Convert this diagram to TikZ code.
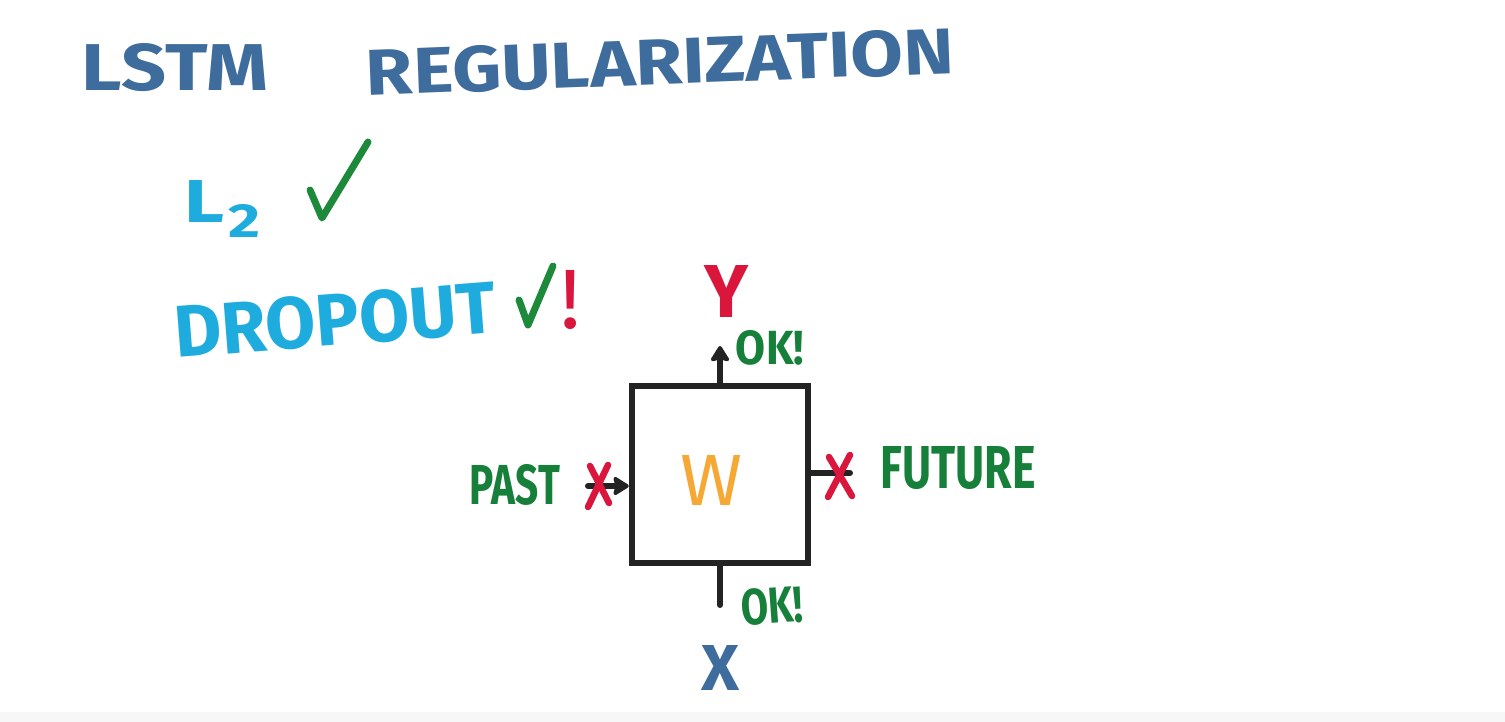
\documentclass[tikz,border=0pt]{standalone}
\usepackage{fontspec}
\setmainfont{Fira Sans}
\usepackage{graphicx}
\usetikzlibrary{arrows.meta}
\definecolor{titleblue}{RGB}{62,108,156}
\definecolor{skycyan}{RGB}{30,172,222}
\definecolor{checkgreen}{RGB}{28,138,58}
\definecolor{labelgreen}{RGB}{22,128,58}
\definecolor{markred}{RGB}{218,22,60}
\definecolor{worange}{RGB}{246,168,52}
\definecolor{boxblack}{RGB}{35,35,35}
\newcommand{\fitbox}[3]{\resizebox{#1pt}{#2pt}{#3}}
\tikzset{
  lbl/.style={inner sep=0pt, anchor=center},
  ttl/.style={lbl, text=titleblue, font=\bfseries},
  cyn/.style={lbl, text=skycyan, font=\bfseries},
  grn/.style={lbl, text=labelgreen, font=\bfseries},
  redtxt/.style={lbl, text=markred},
  tick/.style={draw=checkgreen, line width=7pt, line cap=round, line join=round},
  cross/.style={draw=markred, line width=6.5pt, line cap=round},
  wire/.style={draw=boxblack, line width=6pt, line cap=round},
  arr/.style={wire, -{Stealth[round, length=18pt, width=22pt, inset=3pt]}},
  cell/.style={draw=boxblack, line width=6.5pt, minimum width=176pt, minimum height=177pt, inner sep=0pt}
}
\begin{document}
\begin{tikzpicture}[x=1pt,y=-1pt]
\useasboundingbox (0,0) rectangle (1505,722);
\fill[white] (0,0) rectangle (1505,722);
\fill[black!3] (0,712) rectangle (1505,722);

% title
\node[ttl] (lstm) at (175,68) {\fitbox{186}{47}{LSTM}};
\node[ttl, rotate=2.2] (reg) at (660,62) {\fitbox{588}{46}{REGULARIZATION}};

% L2
\node[cyn] (ltwoL) at (205,201) {\fitbox{40}{42}{L}};
\node[cyn] (ltwosub) at (245,221) {\fitbox{32}{33}{2}};
\draw[tick] (310,190) -- (322,218) -- (368,142);

% dropout
\node[cyn, rotate=4.5] (drop) at (335,320) {\fitbox{322}{52}{DROPOUT}};
\draw[tick] (519,300) -- (528,325) -- (553,266);
\node[redtxt] (bang) at (571,300) {\resizebox{!}{58pt}{!}};

% cell
\node[cell] (w) at (720,474.5) {};
\node[lbl, text=worange] (wlab) at (712,480) {\fitbox{62}{50}{W}};

% output
\node[redtxt, font=\bfseries] (ylab) at (727,291) {\fitbox{44}{52}{Y}};
\coordinate (ytip) at (720,346);
\draw[arr] (w.north) -- (ytip);
\node[grn] (oktop) at (770,348) {\fitbox{68}{34}{OK!}};

% past
\node[grn] (past) at (515,485) {\fitbox{90}{40}{PAST}};
\coordinate (pastend) at (588,486);
\draw[arr] (pastend) -- (pastend -| w.west);
\draw[cross] (590,466) -- (609,503);
\draw[cross] (608,465) -- (588,507);

% future
\coordinate (futend) at (850,473);
\draw[wire] (w.east |- futend) -- (futend);
\draw[cross] (829,457) -- (852,496);
\draw[cross] (850,455) -- (828,497);
\node[grn] (future) at (958,468) {\fitbox{155}{42}{FUTURE}};

% input
\coordinate (xin) at (720,605);
\draw[wire] (xin) -- (w.south);
\node[grn, rotate=4] (okbot) at (772,606) {\fitbox{62}{36}{OK!}};
\node[lbl, text=titleblue, font=\bfseries] (xlab) at (720,668) {\fitbox{38}{45}{X}};
\end{tikzpicture}
\end{document}
